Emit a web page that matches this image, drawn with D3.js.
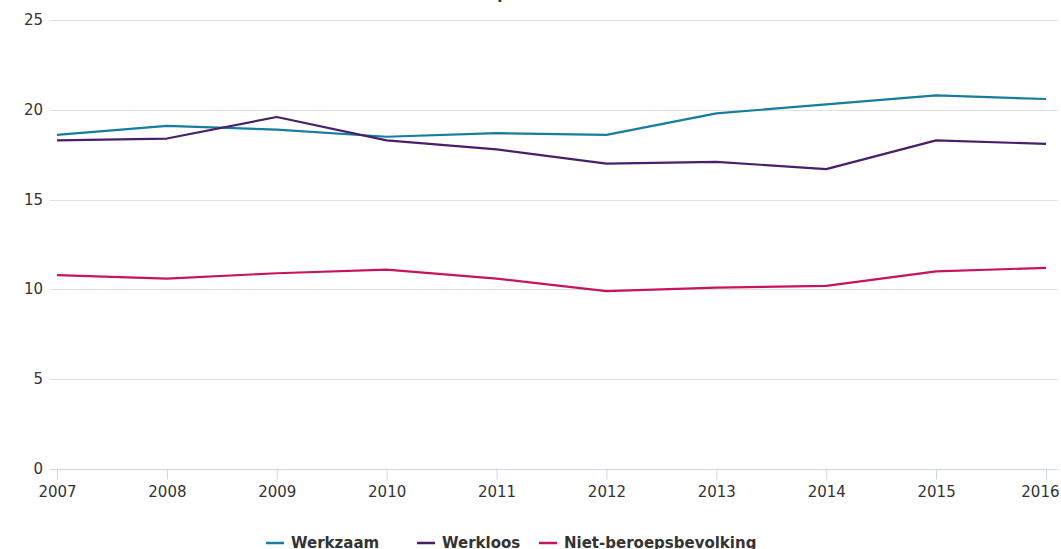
<!DOCTYPE html>
<html><head><meta charset="utf-8">
<script src="https://cdn.jsdelivr.net/npm/d3@7"></script>
<style>body{margin:0;background:#fff;}svg{display:block;font-family:"DejaVu Sans",Verdana,sans-serif;}</style>
</head><body>
<svg id="c" width="1061" height="549"></svg>
<script>
const years = [2007,2008,2009,2010,2011,2012,2013,2014,2015,2016];
const werkzaam = [18.6,19.1,18.9,18.5,18.7,18.6,19.8,20.3,20.8,20.6];
const werkloos = [18.3,18.4,19.6,18.3,17.8,17.0,17.1,16.7,18.3,18.1];
const nietBeroeps = [10.8,10.6,10.9,11.1,10.6,9.9,10.1,10.2,11.0,11.2];
const yTicks = [0,5,10,15,20,25];
const seriesNames = ["Werkzaam","Werkloos","Niet-beroepsbevolking"];
const colors = ["#157ca2","#4a1e6b","#c8145e"];

const svg = d3.select("#c");
const x = d3.scaleLinear().domain([2007,2016]).range([57,1046]);
const y = d3.scaleLinear().domain([0,25]).range([469,20]);

// title (cut off at top, as in the reference)
svg.append("text").attr("x",530).attr("y",-1).attr("text-anchor","middle")
  .attr("font-size",15).attr("font-weight","bold").attr("fill","#333").text("procent");

// grid
svg.append("g").selectAll("line").data(yTicks.filter(d=>d>0)).join("line")
  .attr("x1",50).attr("x2",1058).attr("y1",d=>Math.round(y(d))+0.5).attr("y2",d=>Math.round(y(d))+0.5)
  .attr("stroke","#e0e0e0").attr("stroke-width",1);

// y labels
svg.append("g").selectAll("text").data(yTicks).join("text")
  .attr("x",43).attr("y",d=>y(d)+5).attr("text-anchor","end")
  .attr("font-size",15).attr("fill","#333").text(d=>d);

// x axis
const xAxis = d3.axisBottom(x).tickValues(years).tickFormat(d3.format("d")).tickSize(10).tickSizeOuter(0);
const gx = svg.append("g").attr("transform",`translate(0,${Math.round(y(0))+0.5})`).call(xAxis);
gx.select(".domain").remove();
gx.selectAll(".tick line").attr("stroke","#ccd6eb");
gx.selectAll(".tick text").attr("font-size",15).attr("fill","#333").attr("font-family","DejaVu Sans").attr("dy","0.95em");
// keep last label inside the chart
gx.selectAll(".tick text").filter(d=>d===2016).attr("text-anchor","end").attr("x",13);
svg.append("line").attr("x1",50).attr("x2",1058).attr("y1",Math.round(y(0))+0.5).attr("y2",Math.round(y(0))+0.5)
  .attr("stroke","#ccd6eb").attr("stroke-width",1);

// lines
const data = [werkzaam, werkloos, nietBeroeps];
const line = d3.line().x((d,i)=>x(years[i])).y(d=>y(d));
svg.append("g").selectAll("path").data(data).join("path")
  .attr("d",line).attr("fill","none").attr("stroke",(d,i)=>colors[i])
  .attr("stroke-width",2.2).attr("stroke-linejoin","round");

// legend
const legX = [266,417,539];
const lg = svg.append("g");
seriesNames.forEach((n,i)=>{
  lg.append("line").attr("x1",legX[i]).attr("x2",legX[i]+18).attr("y1",543).attr("y2",543)
    .attr("stroke",colors[i]).attr("stroke-width",2.5);
  lg.append("text").attr("x",legX[i]+25).attr("y",548).attr("font-size",15).attr("font-weight","bold")
    .attr("fill","#333").text(n);
});
</script>
</body></html>
